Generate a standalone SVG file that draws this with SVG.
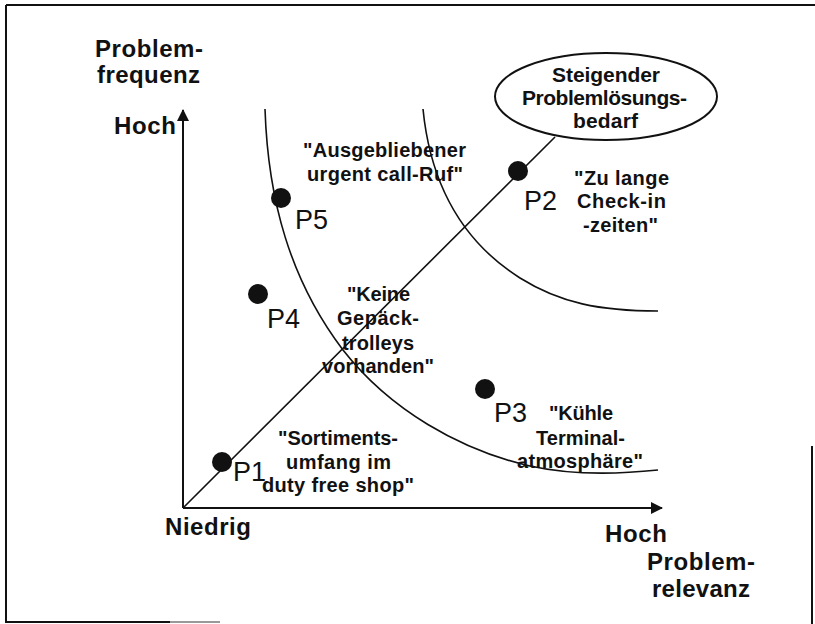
<svg xmlns="http://www.w3.org/2000/svg" width="815" height="624" viewBox="0 0 815 624">
<style>
  text { font-family: "Liberation Sans", Arial, Helvetica, sans-serif; fill: #111; }
  .axis { font-size: 24px; font-weight: bold; }
  .lbl { font-size: 20px; font-weight: bold; }
  .ell { font-size: 21px; font-weight: bold; }
  .pl { font-size: 27px; }
  .line { fill: none; stroke: #111; stroke-width: 1.6; }
  .ax { fill: none; stroke: #111; stroke-width: 2; }
  .dot { fill: #111; }
  .frame { fill: none; stroke: #111; stroke-width: 2; }
</style>
<defs>
  <marker id="arr" viewBox="0 0 12 12" refX="11" refY="6" markerWidth="12" markerHeight="12" markerUnits="userSpaceOnUse" orient="auto">
    <path d="M0,0 L12,6 L0,12 Z" fill="#111"/>
  </marker>
</defs>
<rect width="815" height="624" fill="#fff"/>
<g id="frame">
  <line class="frame" x1="6" y1="5" x2="815" y2="5"/>
  <line class="frame" x1="6" y1="5" x2="6" y2="623"/>
  <line class="frame" x1="6" y1="622" x2="170" y2="622"/>
  <line x1="170" y1="622" x2="220" y2="622" stroke="#999" stroke-width="2"/>
  <line class="frame" x1="812" y1="446" x2="812" y2="624"/>
</g>
<g id="connectors">
  <line class="ax" x1="183" y1="508" x2="183" y2="110" marker-end="url(#arr)"/>
  <line class="ax" x1="183" y1="508" x2="662" y2="508" marker-end="url(#arr)"/>
  <line class="line" x1="183" y1="508" x2="555" y2="137"/>
  <path class="line" d="M265,109 C268,200 290,280 343,350 C390,410 460,450 530,466 C575,476 620,474 658,470"/>
  <path class="line" d="M423,109 C430,180 460,240 520,278 C560,303 600,311 658,311"/>
</g>
<g id="axis-labels">
  <text class="axis" x="95" y="57" textLength="108">Problem-</text>
  <text class="axis" x="97" y="83" textLength="103">frequenz</text>
  <text class="axis" x="114" y="134" textLength="62">Hoch</text>
  <text class="axis" x="165" y="535" textLength="86">Niedrig</text>
  <text class="axis" x="605" y="542" textLength="62">Hoch</text>
  <text class="axis" x="647" y="570" textLength="108">Problem-</text>
  <text class="axis" x="652" y="597" textLength="98">relevanz</text>
</g>
<g id="bedarf">
  <ellipse cx="606" cy="96.5" rx="111" ry="43.5" fill="#fff" stroke="#111" stroke-width="2"/>
  <text class="ell" x="552" y="82" textLength="108">Steigender</text>
  <text class="ell" x="522" y="105" textLength="165">Problemlösungs-</text>
  <text class="ell" x="573" y="128" textLength="65">bedarf</text>
</g>
<g id="p1">
  <circle class="dot" cx="222" cy="462" r="10"/>
  <text class="pl" x="233" y="481">P1</text>
  <text class="lbl" x="278" y="445" textLength="120">"Sortiments-</text>
  <text class="lbl" x="286" y="469" textLength="105">umfang im</text>
  <text class="lbl" x="262" y="492" textLength="152">duty free shop"</text>
</g>
<g id="p2">
  <circle class="dot" cx="518" cy="171" r="10"/>
  <text class="pl" x="524" y="210">P2</text>
  <text class="lbl" x="574" y="185" textLength="95">"Zu lange</text>
  <text class="lbl" x="577" y="208" textLength="89">Check-in</text>
  <text class="lbl" x="583" y="232" textLength="75">-zeiten"</text>
</g>
<g id="p3">
  <circle class="dot" cx="485" cy="389" r="10"/>
  <text class="pl" x="494" y="422">P3</text>
  <text class="lbl" x="549" y="420" textLength="64">"Kühle</text>
  <text class="lbl" x="536" y="445" textLength="89">Terminal-</text>
  <text class="lbl" x="517" y="468" textLength="126">atmosphäre"</text>
</g>
<g id="p4">
  <circle class="dot" cx="258" cy="294" r="10"/>
  <text class="pl" x="267" y="328">P4</text>
  <text class="lbl" x="347" y="301" textLength="63">"Keine</text>
  <text class="lbl" x="337" y="325" textLength="82">Gepäck-</text>
  <text class="lbl" x="342" y="350" textLength="72">trolleys</text>
  <text class="lbl" x="322" y="373" textLength="112">vorhanden"</text>
</g>
<g id="p5">
  <circle class="dot" cx="281" cy="198" r="10"/>
  <text class="pl" x="295" y="229">P5</text>
  <text class="lbl" x="303" y="157" textLength="163">"Ausgebliebener</text>
  <text class="lbl" x="307" y="181" textLength="156">urgent call-Ruf"</text>
</g>
</svg>
